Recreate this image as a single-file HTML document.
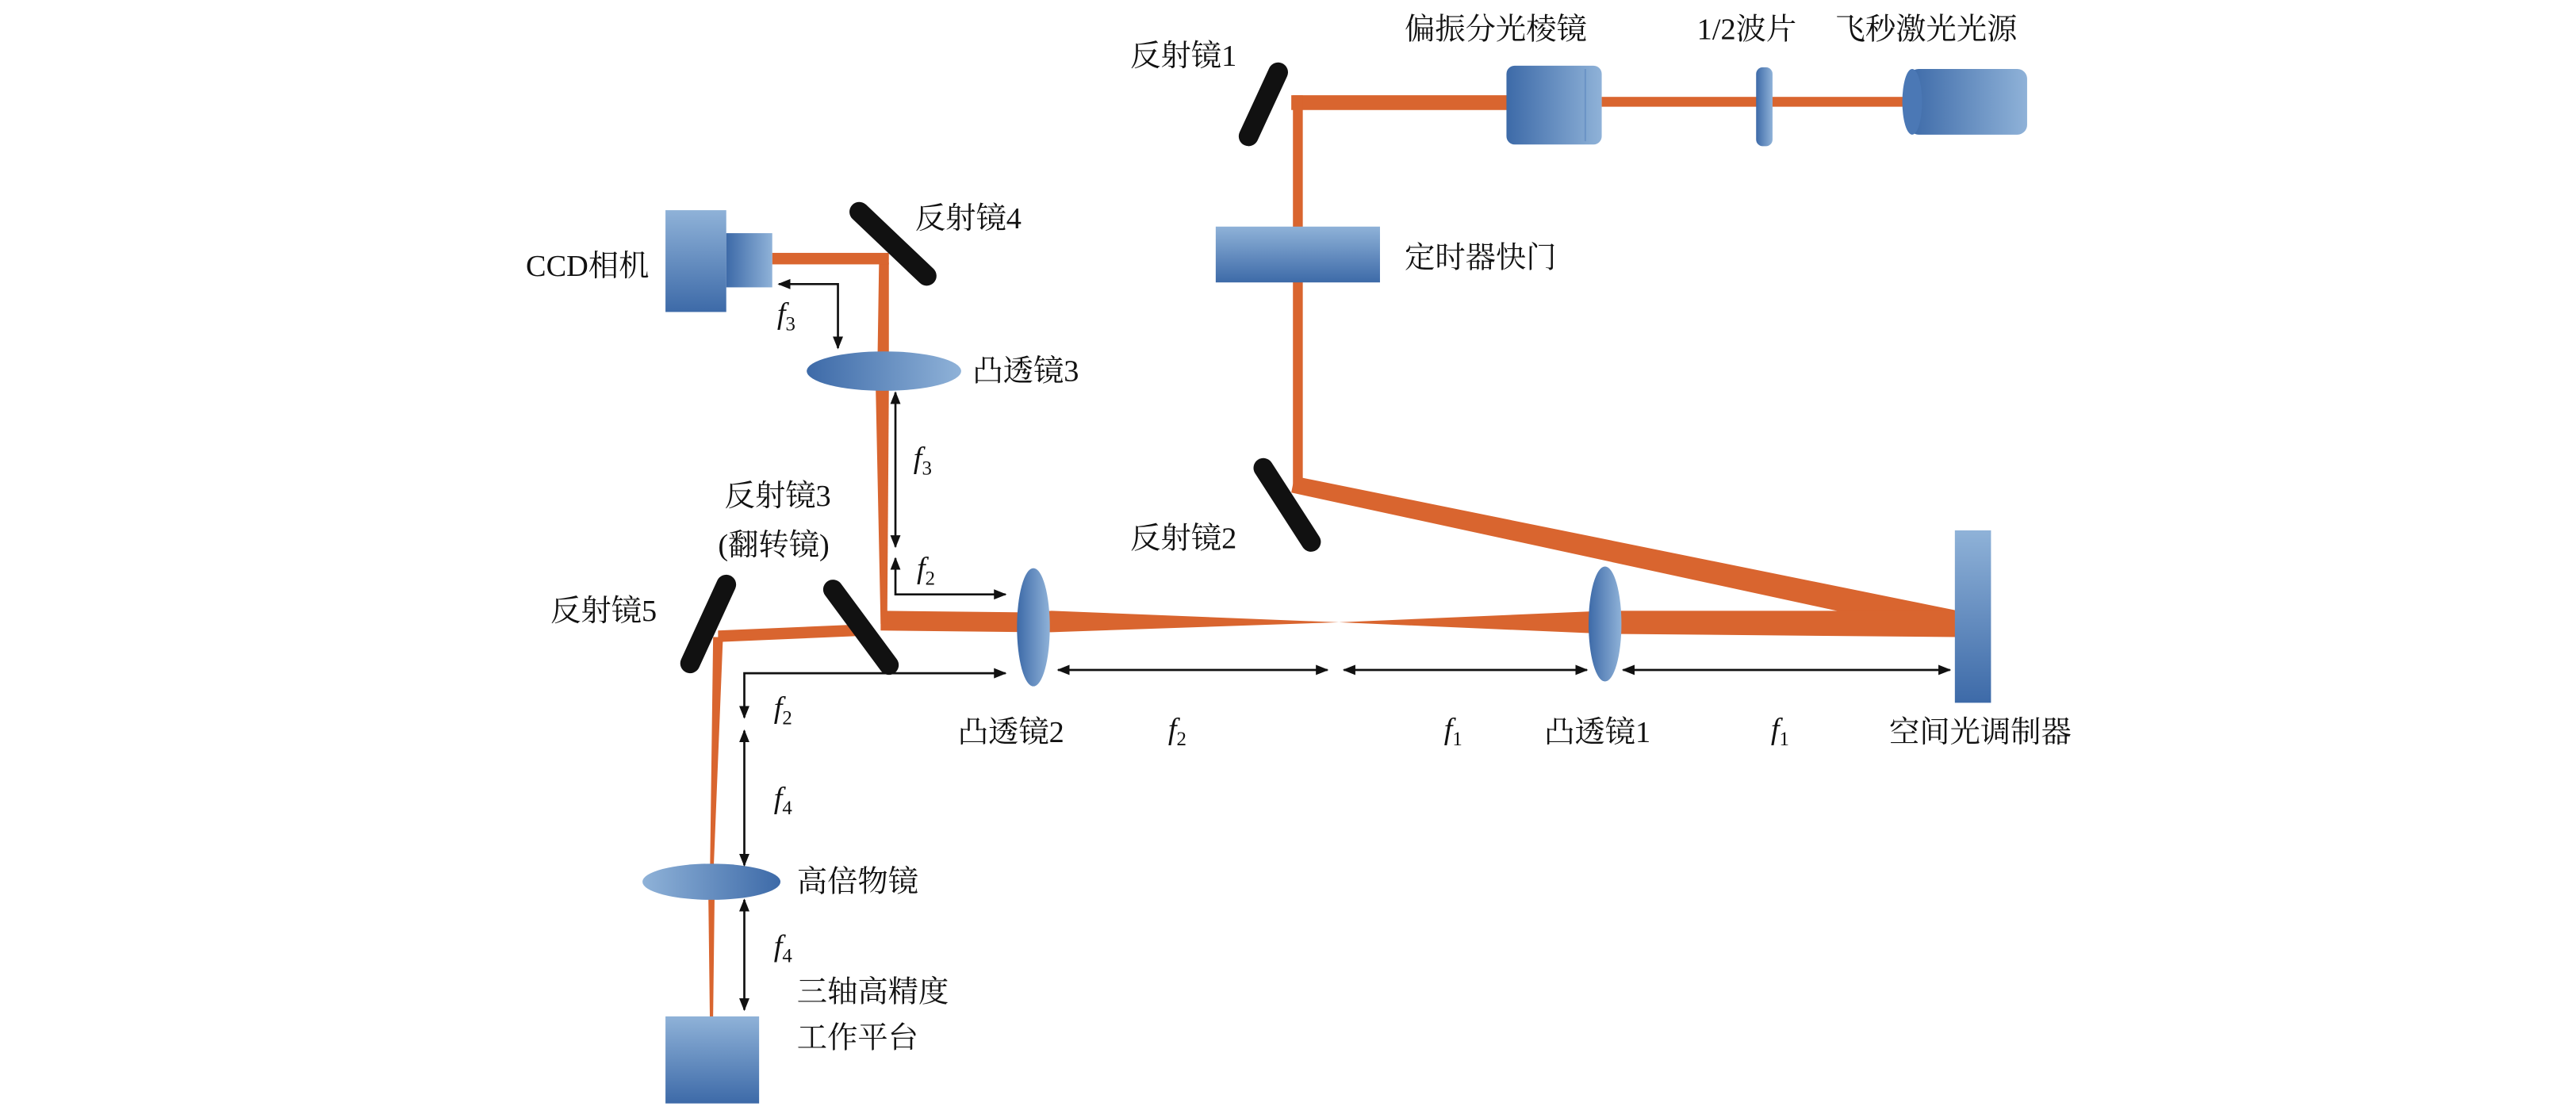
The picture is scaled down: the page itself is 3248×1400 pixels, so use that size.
<!DOCTYPE html>
<html><head><meta charset="utf-8"><style>
html,body{margin:0;padding:0;background:#fff;}
svg{display:block;}
text{font-family:"Liberation Serif","Noto Serif CJK SC",serif;font-size:18.5px;fill:#111;}
.it{font-style:italic;}
</style></head><body>
<svg width="3248" height="1400" viewBox="0 0 1568 676" xmlns="http://www.w3.org/2000/svg">
<defs>
<linearGradient id="bh" x1="0" y1="0" x2="1" y2="0"><stop offset="0" stop-color="#3d6aa8"/><stop offset="1" stop-color="#8fb2d8"/></linearGradient>
<linearGradient id="bh2" x1="0" y1="0" x2="1" y2="0"><stop offset="0" stop-color="#8fb2d8"/><stop offset="1" stop-color="#3d6aa8"/></linearGradient>
<linearGradient id="bv" x1="0" y1="0" x2="0" y2="1"><stop offset="0" stop-color="#8fb2d8"/><stop offset="1" stop-color="#3d6aa8"/></linearGradient>
<marker id="a" viewBox="0 0 10 10" refX="9" refY="5" markerWidth="6" markerHeight="6" orient="auto-start-reverse"><path d="M0,1 L10,5 L0,9 z" fill="#111"/></marker>
</defs>
<g fill="#d9652f">
<rect x="786" y="58" width="135" height="9"/>
<rect x="975" y="59" width="185" height="6"/>
<rect x="787" y="58" width="6" height="240"/>
<polygon points="788,290 1192,372 1192,388 786,300"/>
<polygon points="1192,372 977,372 815,379 640,372 629,373 629,385 640,385 815,379 977,386 1192,388"/>
<polygon points="536,372 629,373 629,385 536,384"/>
<polygon points="530,380 437,384 437,391 530,387"/>
<polygon points="536,380 540,380 541,237 533,237"/>
<polygon points="534,225 541,225 541,160 535,160"/>
<rect x="470" y="154" width="71" height="7"/>
<polygon points="434,388 440,388 434,537 432,537"/>
<polygon points="431,537 435,537 434,619 432,619"/>
</g>
<g stroke="#111" stroke-width="12" stroke-linecap="round">
<line x1="778" y1="44" x2="760" y2="83"/>
<line x1="769" y1="285" x2="798" y2="330"/>
<line x1="523" y1="129" x2="564" y2="168"/>
<line x1="507" y1="359" x2="541" y2="405"/>
<line x1="442" y1="356" x2="420" y2="404"/>
</g>
<rect x="1162" y="42" width="72" height="40" rx="6" fill="url(#bh)"/>
<ellipse cx="1164" cy="62" rx="6" ry="20" fill="#4b78b5"/>
<rect x="1069" y="41" width="10" height="48" rx="4" fill="url(#bh)"/>
<rect x="917" y="40" width="58" height="48" rx="5" fill="url(#bh)"/>
<line x1="965" y1="42" x2="965" y2="86" stroke="#6b93c6"/>
<rect x="740" y="138" width="100" height="34" fill="url(#bv)"/>
<rect x="1190" y="323" width="22" height="105" fill="url(#bv)"/>
<ellipse cx="977" cy="380" rx="10" ry="35" fill="url(#bh)"/>
<ellipse cx="629" cy="382" rx="10" ry="36" fill="url(#bh)"/>
<ellipse cx="538" cy="226" rx="47" ry="12" fill="url(#bh)"/>
<ellipse cx="433" cy="537" rx="42" ry="11" fill="url(#bh2)"/>
<rect x="405" y="128" width="37" height="62" fill="url(#bv)"/>
<rect x="442" y="142" width="28" height="33" fill="url(#bh)"/>
<rect x="405" y="619" width="57" height="53" fill="url(#bv)"/>
<g stroke="#111" stroke-width="1.3" fill="none">
<polyline points="510,212 510,173 474,173" marker-start="url(#a)" marker-end="url(#a)"/>
<line x1="545" y1="239" x2="545" y2="333" marker-start="url(#a)" marker-end="url(#a)"/>
<polyline points="545,340 545,362 612,362" marker-start="url(#a)" marker-end="url(#a)"/>
<polyline points="453,437 453,410 612,410" marker-start="url(#a)" marker-end="url(#a)"/>
<line x1="453" y1="445" x2="453" y2="527" marker-start="url(#a)" marker-end="url(#a)"/>
<line x1="453" y1="548" x2="453" y2="615" marker-start="url(#a)" marker-end="url(#a)"/>
<line x1="644" y1="408" x2="808" y2="408" marker-start="url(#a)" marker-end="url(#a)"/>
<line x1="818" y1="408" x2="966" y2="408" marker-start="url(#a)" marker-end="url(#a)"/>
<line x1="988" y1="408" x2="1187" y2="408" marker-start="url(#a)" marker-end="url(#a)"/>
</g>
<text x="855" y="24">偏振分光棱镜</text>
<text x="1033" y="24">1/2波片</text>
<text x="1117" y="24">飞秒激光光源</text>
<text x="688" y="40">反射镜1</text>
<text x="557" y="139">反射镜4</text>
<text x="320" y="168">CCD相机</text>
<text x="855" y="163">定时器快门</text>
<text x="592" y="232">凸透镜3</text>
<text x="688" y="334">反射镜2</text>
<text x="441" y="308">反射镜3</text>
<text x="437" y="338">(翻转镜)</text>
<text x="335" y="378">反射镜5</text>
<text x="583" y="452">凸透镜2</text>
<text x="940" y="452">凸透镜1</text>
<text x="1150" y="452">空间光调制器</text>
<text x="485" y="543">高倍物镜</text>
<text x="485" y="610">三轴高精度</text>
<text x="485" y="638">工作平台</text>
<g>
<text x="473" y="197"><tspan class="it">f</tspan><tspan font-size="12" dy="4">3</tspan></text>
<text x="556" y="285"><tspan class="it">f</tspan><tspan font-size="12" dy="4">3</tspan></text>
<text x="558" y="352"><tspan class="it">f</tspan><tspan font-size="12" dy="4">2</tspan></text>
<text x="471" y="437"><tspan class="it">f</tspan><tspan font-size="12" dy="4">2</tspan></text>
<text x="471" y="492"><tspan class="it">f</tspan><tspan font-size="12" dy="4">4</tspan></text>
<text x="471" y="582"><tspan class="it">f</tspan><tspan font-size="12" dy="4">4</tspan></text>
<text x="711" y="450"><tspan class="it">f</tspan><tspan font-size="12" dy="4">2</tspan></text>
<text x="879" y="450"><tspan class="it">f</tspan><tspan font-size="12" dy="4">1</tspan></text>
<text x="1078" y="450"><tspan class="it">f</tspan><tspan font-size="12" dy="4">1</tspan></text>
</g>
</svg>
</body></html>
